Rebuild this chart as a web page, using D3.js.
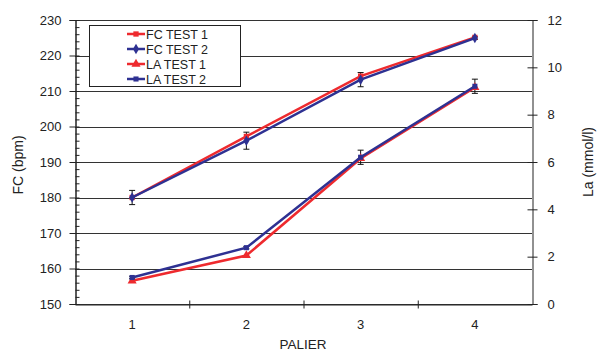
<!DOCTYPE html>
<html><head><meta charset="utf-8">
<script src="https://cdn.jsdelivr.net/npm/d3@7"></script>
<style>body{margin:0;background:#fff}svg{display:block;font-family:"Liberation Sans",Arial,sans-serif}</style>
</head><body><svg id="c" width="597" height="354"></svg>
<script>
const categories = ["1","2","3","4"];
const fcTest1 = [180, 197.2, 214.2, 225.1];
const fcTest2 = [180, 196.0, 213.2, 224.9];
const fcErr2 = [2, 2.4, 2, 0.4];
const laTest1 = [0.98, 2.05, 6.15, 9.15];
const laTest2 = [1.12, 2.38, 6.2, 9.2];
const laErr = [0.05, 0.05, 0.3, 0.3];
const leftTicks = [150,160,170,180,190,200,210,220,230];
const rightTicks = [0,2,4,6,8,10,12];
const legendLabels = ["FC TEST 1","FC TEST 2","LA TEST 1","LA TEST 2"];

const RED = "#ee2a2e", BLUE = "#2e3192";
const svg = d3.select("#c");
const L = 75, R = 532, T = 20, B = 304;
const x = d3.scaleBand().domain(categories).range([L, R]).padding(0);
const yL = d3.scaleLinear().domain([150, 230]).range([B, T]);
const yR = d3.scaleLinear().domain([0, 12]).range([B, T]);
const cx = d => x(d) + x.bandwidth()/2;

// gridlines
svg.append("g").selectAll("line").data(leftTicks).join("line")
  .attr("x1", L).attr("x2", R)
  .attr("y1", d => Math.round(yL(d)) + 0.5).attr("y2", d => Math.round(yL(d)) + 0.5)
  .attr("stroke", "#333").attr("stroke-width", 1);

// left axis
const gl = svg.append("g").attr("transform", `translate(${L+0.5},0)`);
gl.call(d3.axisLeft(yL).tickValues(leftTicks).tickSize(6).tickPadding(8));
gl.append("g").call(d3.axisRight(yL).tickValues(d3.range(150, 231, 2)).tickSize(4).tickFormat(""));
gl.selectAll(".domain").attr("stroke", "#222");
gl.selectAll("line").attr("stroke", "#222");
gl.selectAll("text").attr("font-size", 13).attr("fill", "#222");

// right axis
const gr = svg.append("g").attr("transform", `translate(${R+0.5},0)`);
gr.call(d3.axisRight(yR).tickValues(rightTicks).tickSize(5).tickPadding(10));
gr.selectAll(".tick line").attr("x1", -5);
gr.selectAll(".domain").attr("stroke", "#222");
gr.selectAll("line").attr("stroke", "#222");
gr.selectAll("text").attr("font-size", 13).attr("fill", "#222");

// x axis
const gx = svg.append("g").attr("transform", `translate(0,${B+0.5})`);
gx.call(d3.axisBottom(x).tickSize(0).tickPadding(15));
gx.selectAll(".domain").attr("stroke", "#222");
gx.selectAll("text").attr("font-size", 13).attr("fill", "#222");
gx.append("g").selectAll("line").data(categories.slice(1)).join("line")
  .attr("x1", d => x(d) + 0.5).attr("x2", d => x(d) + 0.5)
  .attr("y1", -4).attr("y2", 4).attr("stroke", "#222");

// axis titles
svg.append("text").attr("x", 303).attr("y", 349).attr("text-anchor", "middle")
  .attr("font-size", 13.5).attr("fill", "#222").text("PALIER");
svg.append("text").attr("transform", "translate(23,165) rotate(-90)").attr("text-anchor", "middle")
  .attr("font-size", 14).attr("fill", "#222").text("FC (bpm)");
svg.append("text").attr("transform", "translate(593,162) rotate(-90)").attr("text-anchor", "middle")
  .attr("font-size", 14).attr("fill", "#222").text("La (mmol/l)");

const series = [
  {vals: fcTest1, y: yL, color: RED, shape: d3.symbolSquare, size: 28},
  {vals: fcTest2, y: yL, color: BLUE, shape: d3.symbolDiamond, size: 32},
  {vals: laTest1, y: yR, color: RED, shape: d3.symbolTriangle, size: 36},
  {vals: laTest2, y: yR, color: BLUE, shape: d3.symbolSquare, size: 26}
];

// error bars
function errBars(vals, errs, y) {
  const g = svg.append("g").attr("stroke", "#111").attr("stroke-width", 1);
  vals.forEach((v, i) => {
    const xx = cx(categories[i]);
    g.append("line").attr("x1", xx).attr("x2", xx).attr("y1", y(v - errs[i])).attr("y2", y(v + errs[i]));
    [v - errs[i], v + errs[i]].forEach(e => g.append("line").attr("x1", xx - 3).attr("x2", xx + 3).attr("y1", y(e)).attr("y2", y(e)));
  });
}
errBars(fcTest2, fcErr2, yL);
errBars(laTest2, laErr, yR);

const line = (y) => d3.line().x((d, i) => cx(categories[i])).y(d => y(d));
series.forEach(s => {
  svg.append("path").datum(s.vals).attr("d", line(s.y)).attr("fill", "none")
    .attr("stroke", s.color).attr("stroke-width", 2.5);
  svg.append("g").selectAll("path").data(s.vals).join("path")
    .attr("transform", (d, i) => `translate(${cx(categories[i])},${s.y(d)})`)
    .attr("d", d3.symbol().type(s.shape).size(s.size)).attr("fill", s.color);
});

// legend
const lg = svg.append("g");
lg.append("rect").attr("x", 89.5).attr("y", 25.5).attr("width", 151).attr("height", 61)
  .attr("fill", "#fff").attr("stroke", "#222");
legendLabels.forEach((t, i) => {
  const yy = 34 + i * 15;
  const s = series[i];
  lg.append("line").attr("x1", 127).attr("x2", 145).attr("y1", yy).attr("y2", yy)
    .attr("stroke", s.color).attr("stroke-width", 2.5);
  lg.append("path").attr("transform", `translate(136,${yy})`)
    .attr("d", d3.symbol().type(s.shape).size(s.size)).attr("fill", s.color);
  lg.append("text").attr("x", 146).attr("y", yy + 4.5).attr("font-size", 12.5).attr("fill", "#222").text(t);
});
</script></body></html>
